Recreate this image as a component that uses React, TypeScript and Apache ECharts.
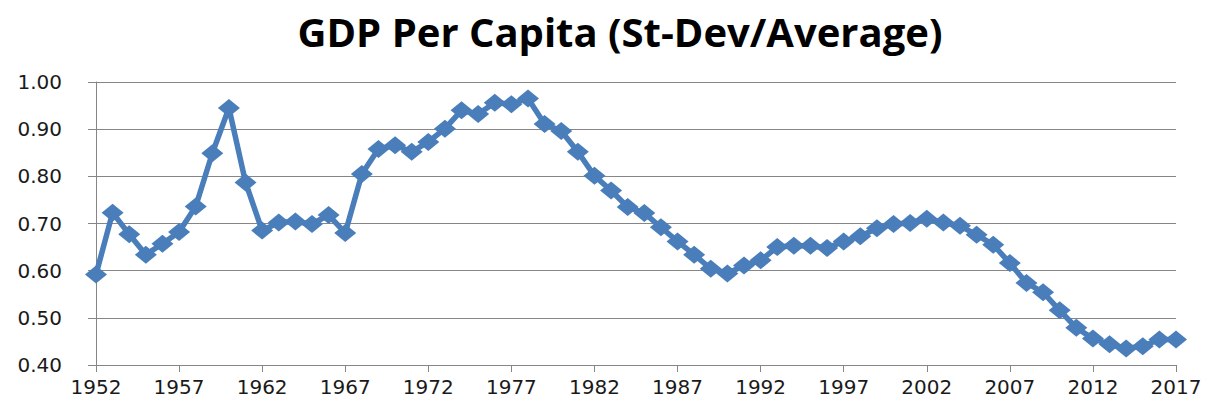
import React, { useEffect, useRef } from "react";
import * as echarts from "echarts";

const years: string[] = [];
for (let y = 1952; y <= 2017; y++) years.push(String(y));

const values: number[] = [
  0.592, 0.723, 0.677, 0.634, 0.657, 0.682, 0.736, 0.849, 0.945, 0.787,
  0.685, 0.702, 0.704, 0.699, 0.718, 0.680, 0.805, 0.858, 0.866, 0.852,
  0.873, 0.901, 0.940, 0.932, 0.956, 0.953, 0.965, 0.911, 0.896, 0.852,
  0.801, 0.770, 0.735, 0.722, 0.692, 0.662, 0.634, 0.604, 0.594, 0.611,
  0.622, 0.650, 0.653, 0.653, 0.648, 0.662, 0.673, 0.690, 0.699, 0.701,
  0.710, 0.702, 0.695, 0.676, 0.655, 0.616, 0.574, 0.554, 0.516, 0.479,
  0.456, 0.444, 0.435, 0.440, 0.454, 0.454,
];

const titleText = "GDP Per Capita (St-Dev/Average)";

export default function App() {
  const ref = useRef<HTMLDivElement>(null);
  useEffect(() => {
    if (!ref.current) return;
    const chart = echarts.init(ref.current, undefined, { renderer: "svg" });
    chart.setOption({
      animation: false,
      backgroundColor: "#ffffff",
      title: {
        text: titleText,
        left: 615,
        textAlign: "center",
        top: 6,
        textStyle: {
          fontFamily: "Open Sans",
          fontWeight: "bold",
          fontSize: 40,
          color: "#000000",
        },
      },
      grid: { left: 96, right: 34, top: 82, bottom: 42 },
      xAxis: {
        type: "category",
        data: years,
        boundaryGap: false,
        axisLine: { show: true, lineStyle: { color: "#868686", width: 1 } },
        axisTick: { show: true, interval: 4, length: 7, lineStyle: { color: "#868686" } },
        axisLabel: {
          interval: 4,
          margin: 12,
          fontFamily: "DejaVu Sans",
          fontSize: 20,
          color: "#1a1a1a",
        },
        splitLine: { show: false },
      },
      yAxis: {
        type: "value",
        min: 0.4,
        max: 1.0,
        interval: 0.1,
        axisLine: { show: true, lineStyle: { color: "#868686", width: 1 } },
        axisTick: { show: true, length: 8, lineStyle: { color: "#868686" } },
        axisLabel: {
          margin: 34,
          fontFamily: "DejaVu Sans",
          fontSize: 20,
          color: "#1a1a1a",
          formatter: (v: number) => v.toFixed(2),
        },
        splitLine: { show: true, lineStyle: { color: "#868686", width: 1 } },
      },
      series: [
        {
          type: "line",
          data: values,
          symbol: "diamond",
          symbolSize: [22, 18],
          showAllSymbol: true,
          lineStyle: { color: "#4a7ebb", width: 5.5 },
          itemStyle: { color: "#4a7ebb", borderWidth: 0 },
        },
      ],
    });
    return () => chart.dispose();
  }, []);
  return (
    <div
      ref={ref}
      style={{ position: "fixed", left: 0, top: 0, width: 1210, height: 407 }}
    />
  );
}
